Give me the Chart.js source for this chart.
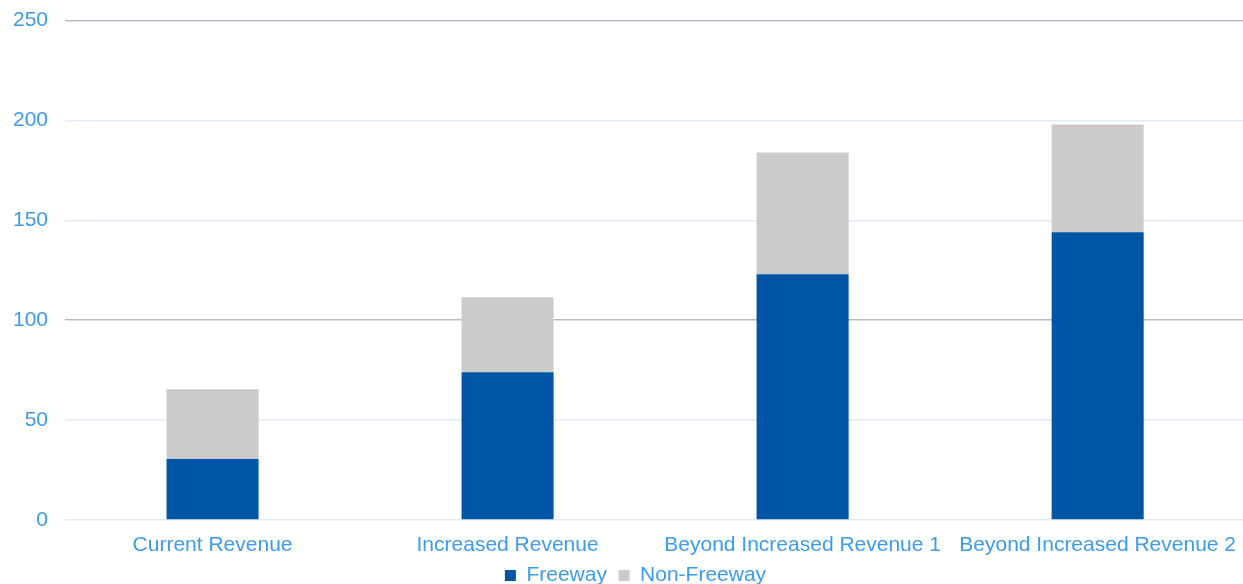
<!DOCTYPE html>
<html>
<head>
<meta charset="utf-8">
<script src="https://cdn.jsdelivr.net/npm/chart.js@4.4.1/dist/chart.umd.min.js"></script>
<style>
html,body{margin:0;padding:0;background:#fff;overflow:hidden;}
#wrap{position:absolute;left:-6px;top:-9px;width:1257px;height:611px;}
</style>
</head>
<body>
<div id="wrap"><canvas id="c"></canvas></div>
<script>
const categories = ["Current Revenue", "Increased Revenue", "Beyond Increased Revenue 1", "Beyond Increased Revenue 2"];
const freeway = [30.5, 74, 123, 144];
const nonFreeway = [35, 37.5, 61, 54];
const yTicks = [0, 50, 100, 150, 200, 250];

const labelColor = '#3a9bef';
const font = {family: '"Liberation Sans", Arial, sans-serif', size: 21};

const legendShift = {
  id: 'legendShift',
  afterLayout(chart) {
    const lg = chart.legend;
    if (lg) { lg.left += 12; lg.right += 12; lg.top -= 6; lg.bottom -= 6; }
  }
};

new Chart(document.getElementById('c'), {
  type: 'bar',
  data: {
    labels: categories,
    datasets: [
      {label: 'Freeway', data: freeway, backgroundColor: '#0055a5', borderWidth: 0},
      {label: 'Non-Freeway', data: nonFreeway, backgroundColor: '#cbcbcb', borderWidth: 0}
    ]
  },
  plugins: [legendShift],
  options: {
    responsive: true,
    maintainAspectRatio: false,
    animation: false,
    layout: {padding: {top: 0, left: 2, right: 0, bottom: 0}},
    datasets: {bar: {barPercentage: 0.312, categoryPercentage: 1}},
    plugins: {
      title: {display: false},
      tooltip: {enabled: false},
      legend: {
        position: 'bottom',
        labels: {
          color: labelColor,
          font: font,
          boxWidth: 11,
          boxHeight: 11,
          padding: 0,
          generateLabels(chart) {
            const items = Chart.defaults.plugins.legend.labels.generateLabels(chart);
            items.forEach((it, i) => { if (i < items.length - 1) it.text = it.text + '\u00a0\u00a0'; });
            return items;
          }
        }
      }
    },
    scales: {
      x: {
        stacked: true,
        grid: {display: false, drawTicks: false},
        border: {display: false},
        ticks: {color: labelColor, font: Object.assign({}, font, {lineHeight: 1}), padding: 15, maxRotation: 0, autoSkip: false}
      },
      y: {
        stacked: true,
        min: yTicks[0],
        max: yTicks[yTicks.length - 1],
        afterBuildTicks: (axis) => { axis.ticks = yTicks.map(v => ({value: v})); },
        grid: {
          drawTicks: false,
          color: (ctx) => (ctx.tick && (ctx.tick.value === 250 || ctx.tick.value === 100)) ? '#b4bec8' : '#e0eaf5',
          lineWidth: 1.5
        },
        border: {display: false},
        ticks: {color: labelColor, font: font, padding: 17}
      }
    }
  }
});
</script>
</body>
</html>
